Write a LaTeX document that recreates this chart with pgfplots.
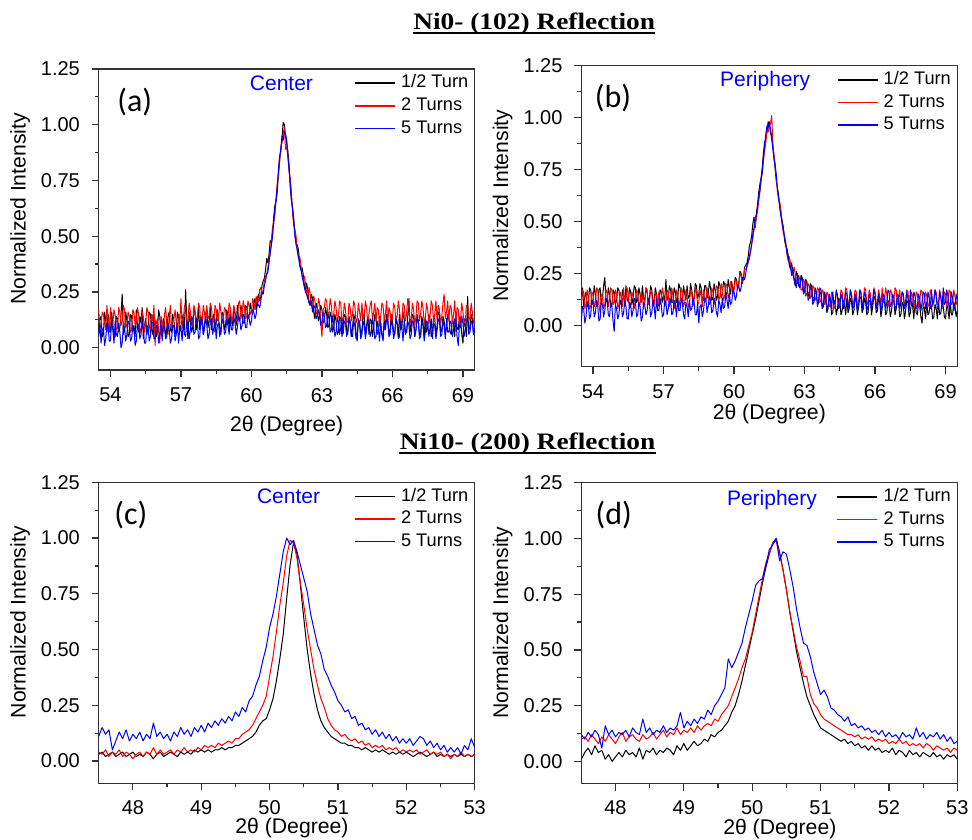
\documentclass[border=0pt]{standalone}
\usepackage{fontspec}
\setmainfont{Liberation Sans}
\newfontfamily\titlefont{Liberation Serif}
\newfontfamily\panelfont{Carlito}
\usepackage{graphicx}
\usepackage{pgfplots}
\usepackage{pgfplotstable}
\pgfplotsset{compat=1.18}

% Ni0 (102), center
\pgfplotstableread{
x k r b
53.50 0.08 0.17 0.05
53.55 0.13 0.09 0.11
53.60 0.14 0.10 0.02
53.65 0.05 0.16 0.08
53.70 0.06 0.15 0.09
53.75 0.16 0.11 0.01
53.80 0.12 0.08 0.04
53.85 0.07 0.19 0.11
53.90 0.15 0.13 0.10
53.95 0.10 0.07 0.03
54.00 0.07 0.18 0.03
54.05 0.16 0.10 0.12
54.10 0.11 0.11 0.08
54.15 0.04 0.17 0.02
54.20 0.05 0.15 0.12
54.25 0.14 0.08 0.06
54.30 0.13 0.09 0.05
54.35 0.07 0.18 0.11
54.40 0.09 0.16 0.07
54.45 0.15 0.10 0.00
54.50 0.24 0.12 0.02
54.55 0.06 0.19 0.10
54.60 0.08 0.17 0.09
54.65 0.16 0.09 0.03
54.70 0.12 0.10 0.06
54.75 0.05 0.16 0.12
54.80 0.06 0.14 0.11
54.85 0.15 0.07 0.03
54.90 0.14 0.08 0.04
54.95 0.07 0.17 0.10
55.00 0.10 0.16 0.08
55.05 0.05 0.10 0.01
55.10 0.17 0.12 0.03
55.15 0.09 0.18 0.11
55.20 0.07 0.15 0.10
55.25 0.14 0.06 0.04
55.30 0.11 0.09 0.06
55.35 0.18 0.16 0.12
55.40 0.04 0.14 0.08
55.45 0.10 0.07 0.02
55.50 0.13 0.11 0.02
55.55 0.06 0.18 0.10
55.60 0.09 0.16 0.09
55.65 0.16 0.10 0.03
55.70 0.15 0.07 0.05
55.75 0.08 0.15 0.12
55.80 0.06 0.12 0.11
55.85 0.15 0.19 0.04
55.90 0.12 0.01 0.04
55.95 0.05 0.11 0.10
56.00 0.08 0.13 0.09
56.05 0.17 0.08 0.02
56.10 0.14 0.02 0.06
56.15 0.06 0.14 0.12
56.20 0.05 0.12 0.03
56.25 0.13 0.07 0.09
56.30 0.11 0.15 0.10
56.35 0.04 0.18 0.04
56.40 0.09 0.10 0.05
56.45 0.14 0.06 0.11
56.50 0.16 0.14 0.08
56.55 0.08 0.19 0.02
56.60 0.07 0.09 0.04
56.65 0.15 0.12 0.10
56.70 0.12 0.13 0.10
56.75 0.06 0.17 0.03
56.80 0.08 0.11 0.06
56.85 0.16 0.07 0.11
56.90 0.13 0.15 0.02
56.95 0.07 0.11 0.09
57.00 0.10 0.22 0.09
57.05 0.13 0.09 0.03
57.10 0.15 0.12 0.12
57.15 0.08 0.19 0.06
57.20 0.26 0.18 0.05
57.25 0.11 0.10 0.12
57.30 0.04 0.13 0.10
57.35 0.16 0.20 0.04
57.40 0.12 0.16 0.08
57.45 0.07 0.10 0.14
57.50 0.09 0.11 0.13
57.55 0.17 0.19 0.06
57.60 0.16 0.17 0.07
57.65 0.08 0.11 0.13
57.70 0.11 0.14 0.11
57.75 0.18 0.20 0.04
57.80 0.08 0.18 0.05
57.85 0.13 0.10 0.13
57.90 0.14 0.12 0.12
57.95 0.06 0.19 0.06
58.00 0.10 0.16 0.08
58.05 0.15 0.11 0.14
58.10 0.17 0.19 0.10
58.15 0.09 0.13 0.04
58.20 0.12 0.14 0.06
58.25 0.18 0.20 0.12
58.30 0.08 0.18 0.13
58.35 0.13 0.11 0.06
58.40 0.15 0.12 0.09
58.45 0.07 0.19 0.13
58.50 0.11 0.17 0.04
58.55 0.17 0.12 0.10
58.60 0.13 0.13 0.11
58.65 0.09 0.20 0.05
58.70 0.06 0.16 0.08
58.75 0.16 0.11 0.13
58.80 0.15 0.12 0.12
58.85 0.08 0.18 0.06
58.90 0.10 0.17 0.07
58.95 0.17 0.11 0.13
59.00 0.14 0.14 0.10
59.05 0.09 0.20 0.06
59.10 0.17 0.18 0.13
59.15 0.12 0.11 0.08
59.20 0.10 0.13 0.08
59.25 0.18 0.19 0.14
59.30 0.15 0.16 0.11
59.35 0.10 0.12 0.06
59.40 0.19 0.12 0.09
59.45 0.13 0.20 0.14
59.50 0.12 0.21 0.13
59.55 0.19 0.13 0.08
59.60 0.16 0.15 0.10
59.65 0.11 0.21 0.15
59.70 0.11 0.18 0.14
59.75 0.19 0.13 0.09
59.80 0.18 0.14 0.09
59.85 0.13 0.21 0.15
59.90 0.14 0.19 0.13
59.95 0.20 0.15 0.10
60.00 0.17 0.16 0.12
60.05 0.15 0.22 0.17
60.10 0.20 0.20 0.16
60.15 0.22 0.17 0.13
60.20 0.17 0.23 0.15
60.25 0.22 0.19 0.20
60.30 0.24 0.21 0.19
60.35 0.21 0.26 0.18
60.40 0.23 0.27 0.21
60.45 0.28 0.24 0.25
60.50 0.30 0.26 0.24
60.55 0.31 0.30 0.28
60.60 0.35 0.32 0.30
60.65 0.40 0.33 0.33
60.70 0.38 0.36 0.34
60.75 0.42 0.40 0.38
60.80 0.48 0.42 0.43
60.85 0.47 0.49 0.46
60.90 0.52 0.54 0.50
60.95 0.59 0.56 0.57
61.00 0.64 0.60 0.62
61.05 0.66 0.68 0.66
61.10 0.70 0.74 0.72
61.15 0.80 0.77 0.79
61.20 0.86 0.83 0.85
61.25 0.88 0.90 0.89
61.30 0.94 0.92 0.95
61.35 1.01 0.96 0.93
61.40 1.00 0.99 0.97
61.45 0.95 0.89 0.96
61.50 0.92 0.90 0.93
61.55 0.88 0.86 0.86
61.60 0.82 0.79 0.80
61.65 0.72 0.76 0.74
61.70 0.66 0.70 0.67
61.75 0.63 0.60 0.62
61.80 0.58 0.55 0.56
61.85 0.51 0.53 0.50
61.90 0.47 0.50 0.46
61.95 0.46 0.43 0.44
62.00 0.44 0.40 0.41
62.05 0.38 0.41 0.37
62.10 0.35 0.38 0.35
62.15 0.36 0.32 0.33
62.20 0.33 0.30 0.30
62.25 0.28 0.32 0.27
62.30 0.26 0.29 0.25
62.35 0.29 0.24 0.24
62.40 0.25 0.22 0.22
62.45 0.21 0.27 0.20
62.50 0.19 0.24 0.19
62.55 0.24 0.19 0.21
62.60 0.22 0.17 0.16
62.65 0.16 0.23 0.19
62.70 0.13 0.21 0.18
62.75 0.20 0.15 0.13
62.80 0.18 0.16 0.14
62.85 0.12 0.22 0.17
62.90 0.14 0.20 0.15
62.95 0.19 0.11 0.10
63.00 0.17 0.05 0.12
63.05 0.11 0.17 0.16
63.10 0.12 0.18 0.14
63.15 0.18 0.22 0.09
63.20 0.15 0.21 0.10
63.25 0.09 0.14 0.15
63.30 0.10 0.16 0.13
63.35 0.16 0.22 0.07
63.40 0.14 0.19 0.08
63.45 0.07 0.12 0.14
63.50 0.09 0.15 0.11
63.55 0.15 0.21 0.05
63.60 0.12 0.18 0.07
63.65 0.06 0.12 0.13
63.70 0.07 0.14 0.12
63.75 0.14 0.21 0.06
63.80 0.13 0.20 0.09
63.85 0.05 0.12 0.13
63.90 0.10 0.13 0.06
63.95 0.15 0.20 0.12
64.00 0.14 0.17 0.11
64.05 0.08 0.11 0.05
64.10 0.06 0.12 0.08
64.15 0.14 0.20 0.13
64.20 0.11 0.18 0.12
64.25 0.05 0.12 0.05
64.30 0.09 0.15 0.05
64.35 0.15 0.21 0.12
64.40 0.13 0.19 0.10
64.45 0.06 0.11 0.04
64.50 0.03 0.13 0.07
64.55 0.12 0.20 0.13
64.60 0.12 0.16 0.11
64.65 0.05 0.12 0.04
64.70 0.08 0.20 0.06
64.75 0.15 0.13 0.12
64.80 0.14 0.14 0.10
64.85 0.06 0.21 0.04
64.90 0.10 0.18 0.08
64.95 0.14 0.11 0.13
65.00 0.06 0.15 0.12
65.05 0.13 0.19 0.05
65.10 0.12 0.21 0.07
65.15 0.05 0.12 0.13
65.20 0.09 0.16 0.10
65.25 0.15 0.20 0.04
65.30 0.13 0.12 0.05
65.35 0.06 0.18 0.12
65.40 0.07 0.17 0.09
65.45 0.14 0.10 0.03
65.50 0.11 0.14 0.11
65.55 0.06 0.20 0.06
65.60 0.04 0.19 0.03
65.65 0.13 0.12 0.11
65.70 0.10 0.15 0.08
65.75 0.15 0.21 0.13
65.80 0.13 0.11 0.12
65.85 0.06 0.18 0.05
65.90 0.08 0.16 0.06
65.95 0.15 0.11 0.12
66.00 0.12 0.13 0.10
66.05 0.07 0.20 0.04
66.10 0.06 0.18 0.07
66.15 0.14 0.12 0.13
66.20 0.11 0.14 0.11
66.25 0.05 0.21 0.04
66.30 0.15 0.17 0.05
66.35 0.08 0.11 0.12
66.40 0.09 0.12 0.09
66.45 0.16 0.20 0.03
66.50 0.13 0.19 0.12
66.55 0.06 0.12 0.07
66.60 0.07 0.15 0.07
66.65 0.14 0.22 0.12
66.70 0.22 0.18 0.10
66.75 0.07 0.11 0.04
66.80 0.10 0.13 0.06
66.85 0.15 0.20 0.12
66.90 0.14 0.17 0.11
66.95 0.05 0.10 0.05
67.00 0.08 0.14 0.08
67.05 0.15 0.21 0.13
67.10 0.12 0.20 0.12
67.15 0.06 0.12 0.04
67.20 0.06 0.15 0.05
67.25 0.14 0.21 0.12
67.30 0.11 0.18 0.10
67.35 0.05 0.11 0.03
67.40 0.14 0.13 0.07
67.45 0.07 0.20 0.12
67.50 0.09 0.17 0.11
67.55 0.15 0.11 0.05
67.60 0.12 0.14 0.09
67.65 0.05 0.21 0.13
67.70 0.07 0.19 0.04
67.75 0.14 0.12 0.11
67.80 0.13 0.15 0.10
67.85 0.06 0.21 0.04
67.90 0.10 0.12 0.08
67.95 0.16 0.19 0.13
68.00 0.15 0.17 0.12
68.05 0.07 0.11 0.05
68.10 0.08 0.14 0.06
68.15 0.14 0.20 0.12
68.20 0.12 0.24 0.10
68.25 0.06 0.13 0.04
68.30 0.09 0.16 0.13
68.35 0.15 0.21 0.07
68.40 0.14 0.12 0.07
68.45 0.07 0.19 0.12
68.50 0.06 0.18 0.11
68.55 0.13 0.11 0.05
68.60 0.11 0.15 0.08
68.65 0.05 0.21 0.13
68.70 0.15 0.11 0.12
68.75 0.09 0.18 0.05
68.80 0.08 0.17 0.01
68.85 0.14 0.10 0.10
68.90 0.12 0.13 0.09
68.95 0.06 0.20 0.14
69.00 0.02 0.16 0.11
69.05 0.13 0.11 0.05
69.10 0.10 0.12 0.08
69.15 0.05 0.19 0.13
69.20 0.23 0.18 0.12
69.25 0.08 0.12 0.06
69.30 0.09 0.14 0.07
69.35 0.15 0.20 0.12
69.40 0.13 0.16 0.11
69.45 0.06 0.11 0.06
69.50 0.08 0.12 0.09
}\tabA

% Ni0 (102), periphery
\pgfplotstableread{
x k r b
53.50 0.13 0.11 0.02
53.55 0.18 0.17 0.09
53.60 0.09 0.16 0.08
53.65 0.14 0.08 0.01
53.70 0.16 0.10 0.04
53.75 0.09 0.17 0.11
53.80 0.11 0.14 0.10
53.85 0.18 0.08 0.03
53.90 0.17 0.09 0.05
53.95 0.10 0.16 0.12
54.00 0.12 0.15 0.11
54.05 0.19 0.09 0.04
54.10 0.15 0.11 0.06
54.15 0.09 0.18 0.12
54.20 0.10 0.17 0.09
54.25 0.17 0.10 0.02
54.30 0.18 0.06 0.03
54.35 0.10 0.15 0.11
54.40 0.13 0.14 0.10
54.45 0.19 0.08 0.04
54.50 0.23 0.10 0.07
54.55 0.12 0.17 0.13
54.60 0.11 0.16 0.12
54.65 0.18 0.09 0.05
54.70 0.15 0.12 0.04
54.75 0.10 0.18 0.11
54.80 0.09 0.17 0.09
54.85 0.17 0.10 0.02
54.90 0.16 0.11 -0.03
54.95 0.10 0.17 0.10
55.00 0.12 0.15 0.08
55.05 0.18 0.08 0.03
55.10 0.17 0.10 0.05
55.15 0.11 0.16 0.12
55.20 0.10 0.14 0.11
55.25 0.17 0.09 0.04
55.30 0.14 0.18 0.06
55.35 0.09 0.11 0.12
55.40 0.19 0.12 0.09
55.45 0.13 0.18 0.03
55.50 0.11 0.15 0.03
55.55 0.18 0.08 0.11
55.60 0.16 0.09 0.10
55.65 0.10 0.16 0.04
55.70 0.13 0.14 0.07
55.75 0.19 0.08 0.13
55.80 0.18 0.11 0.12
55.85 0.11 0.17 0.04
55.90 0.12 0.16 0.05
55.95 0.18 0.09 0.11
56.00 0.15 0.10 0.09
56.05 0.11 0.16 0.02
56.10 0.19 0.14 0.04
56.15 0.13 0.08 0.11
56.20 0.11 0.12 0.10
56.25 0.18 0.18 0.05
56.30 0.16 0.17 0.07
56.35 0.10 0.10 0.13
56.40 0.13 0.11 0.11
56.45 0.19 0.17 0.04
56.50 0.17 0.15 0.06
56.55 0.11 0.09 0.12
56.60 0.12 0.10 0.09
56.65 0.18 0.16 0.03
56.70 0.15 0.14 0.13
56.75 0.09 0.09 0.07
56.80 0.10 0.16 0.07
56.85 0.17 0.10 0.13
56.90 0.16 0.12 0.10
56.95 0.11 0.18 0.04
57.00 0.14 0.15 0.05
57.05 0.12 0.09 0.12
57.10 0.22 0.11 0.11
57.15 0.12 0.17 0.05
57.20 0.13 0.16 0.08
57.25 0.19 0.09 0.13
57.30 0.17 0.12 0.12
57.35 0.11 0.18 0.05
57.40 0.11 0.14 0.06
57.45 0.18 0.08 0.12
57.50 0.16 0.10 0.10
57.55 0.11 0.17 0.04
57.60 0.13 0.15 0.13
57.65 0.20 0.09 0.07
57.70 0.18 0.12 0.07
57.75 0.12 0.18 0.13
57.80 0.12 0.16 0.11
57.85 0.19 0.09 0.05
57.90 0.15 0.11 0.03
57.95 0.12 0.17 0.11
58.00 0.19 0.14 0.09
58.05 0.13 0.09 0.04
58.10 0.14 0.10 0.12
58.15 0.20 0.17 0.07
58.20 0.17 0.15 0.08
58.25 0.12 0.09 0.13
58.30 0.13 0.12 0.11
58.35 0.20 0.18 0.05
58.40 0.19 0.16 0.05
58.45 0.13 0.10 0.11
58.50 0.15 0.11 0.01
58.55 0.20 0.17 0.09
58.60 0.18 0.14 0.10
58.65 0.12 0.09 0.04
58.70 0.12 0.17 0.07
58.75 0.19 0.11 0.13
58.80 0.19 0.12 0.13
58.85 0.13 0.18 0.06
58.90 0.15 0.15 0.09
58.95 0.21 0.10 0.14
59.00 0.18 0.11 0.12
59.05 0.12 0.18 0.06
59.10 0.13 0.16 0.07
59.15 0.20 0.10 0.13
59.20 0.17 0.13 0.11
59.25 0.12 0.19 0.06
59.30 0.14 0.18 0.04
59.35 0.21 0.12 0.12
59.40 0.19 0.14 0.10
59.45 0.13 0.20 0.06
59.50 0.15 0.17 0.13
59.55 0.21 0.12 0.08
59.60 0.20 0.14 0.09
59.65 0.14 0.20 0.15
59.70 0.16 0.19 0.12
59.75 0.22 0.13 0.08
59.80 0.18 0.15 0.15
59.85 0.15 0.21 0.10
59.90 0.21 0.20 0.11
59.95 0.17 0.15 0.17
60.00 0.18 0.17 0.16
60.05 0.23 0.22 0.12
60.10 0.22 0.21 0.14
60.15 0.18 0.17 0.19
60.20 0.20 0.19 0.19
60.25 0.26 0.25 0.16
60.30 0.25 0.24 0.18
60.35 0.21 0.20 0.23
60.40 0.23 0.22 0.23
60.45 0.28 0.27 0.22
60.50 0.29 0.27 0.25
60.55 0.30 0.28 0.29
60.60 0.33 0.30 0.31
60.65 0.38 0.32 0.33
60.70 0.40 0.35 0.36
60.75 0.43 0.39 0.39
60.80 0.49 0.42 0.44
60.85 0.52 0.46 0.47
60.90 0.47 0.48 0.52
60.95 0.54 0.52 0.53
61.00 0.58 0.55 0.57
61.05 0.64 0.60 0.62
61.10 0.68 0.64 0.65
61.15 0.71 0.70 0.70
61.20 0.76 0.73 0.74
61.25 0.83 0.79 0.81
61.30 0.88 0.84 0.86
61.35 0.90 0.88 0.92
61.40 0.93 0.94 0.96
61.45 0.98 0.93 0.95
61.50 0.97 0.96 0.98
61.55 0.93 0.97 0.94
61.60 0.90 1.01 0.91
61.65 0.86 0.88 0.85
61.70 0.81 0.82 0.80
61.75 0.75 0.77 0.77
61.80 0.69 0.71 0.72
61.85 0.66 0.64 0.65
61.90 0.62 0.60 0.61
61.95 0.57 0.59 0.56
62.00 0.53 0.55 0.52
62.05 0.50 0.48 0.49
62.10 0.47 0.44 0.46
62.15 0.41 0.43 0.42
62.20 0.38 0.40 0.39
62.25 0.37 0.34 0.35
62.30 0.34 0.31 0.33
62.35 0.29 0.33 0.30
62.40 0.27 0.30 0.28
62.45 0.30 0.26 0.24
62.50 0.26 0.24 0.27
62.55 0.22 0.28 0.23
62.60 0.19 0.25 0.21
62.65 0.26 0.20 0.18
62.70 0.24 0.20 0.25
62.75 0.19 0.24 0.20
62.80 0.18 0.22 0.18
62.85 0.24 0.17 0.23
62.90 0.23 0.17 0.22
62.95 0.16 0.22 0.15
63.00 0.17 0.21 0.16
63.05 0.22 0.14 0.21
63.10 0.21 0.15 0.20
63.15 0.14 0.20 0.12
63.20 0.15 0.19 0.13
63.25 0.20 0.13 0.19
63.30 0.19 0.14 0.18
63.35 0.12 0.19 0.10
63.40 0.12 0.18 0.11
63.45 0.18 0.12 0.17
63.50 0.16 0.13 0.16
63.55 0.10 0.18 0.09
63.60 0.11 0.17 0.12
63.65 0.16 0.11 0.18
63.70 0.15 0.12 0.17
63.75 0.08 0.17 0.09
63.80 0.09 0.16 0.10
63.85 0.14 0.10 0.16
63.90 0.13 0.11 0.14
63.95 0.06 0.16 0.08
64.00 0.08 0.15 0.09
64.05 0.13 0.09 0.15
64.10 0.12 0.10 0.13
64.15 0.05 0.16 0.08
64.20 0.06 0.14 0.16
64.25 0.12 0.08 0.10
64.30 0.11 0.09 0.11
64.35 0.05 0.16 0.17
64.40 0.08 0.15 0.14
64.45 0.13 0.09 0.08
64.50 0.12 0.11 0.09
64.55 0.05 0.17 0.15
64.60 0.07 0.16 0.13
64.65 0.12 0.10 0.08
64.70 0.10 0.12 0.10
64.75 0.05 0.18 0.16
64.80 0.13 0.17 0.15
64.85 0.06 0.10 0.08
64.90 0.08 0.11 0.11
64.95 0.13 0.17 0.17
65.00 0.11 0.15 0.14
65.05 0.05 0.09 0.08
65.10 0.07 0.12 0.09
65.15 0.13 0.17 0.15
65.20 0.12 0.16 0.13
65.25 0.05 0.09 0.07
65.30 0.09 0.10 0.10
65.35 0.14 0.17 0.17
65.40 0.13 0.15 0.16
65.45 0.06 0.09 0.08
65.50 0.08 0.12 0.11
65.55 0.13 0.18 0.16
65.60 0.11 0.17 0.14
65.65 0.05 0.10 0.07
65.70 0.06 0.11 0.09
65.75 0.12 0.17 0.15
65.80 0.12 0.15 0.13
65.85 0.05 0.09 0.08
65.90 0.09 0.12 0.11
65.95 0.14 0.18 0.17
66.00 0.13 0.16 0.15
66.05 0.06 0.10 0.08
66.10 0.07 0.11 0.10
66.15 0.13 0.17 0.15
66.20 0.11 0.14 0.13
66.25 0.04 0.09 0.07
66.30 0.08 0.18 0.09
66.35 0.13 0.11 0.15
66.40 0.12 0.12 0.14
66.45 0.05 0.18 0.08
66.50 0.06 0.15 0.11
66.55 0.12 0.09 0.17
66.60 0.10 0.11 0.16
66.65 0.04 0.17 0.09
66.70 0.07 0.16 0.10
66.75 0.12 0.10 0.15
66.80 0.12 0.12 0.13
66.85 0.05 0.18 0.08
66.90 0.08 0.17 0.09
66.95 0.13 0.10 0.15
67.00 0.11 0.13 0.14
67.05 0.04 0.17 0.08
67.10 0.05 0.09 0.11
67.15 0.11 0.16 0.16
67.20 0.10 0.15 0.15
67.25 0.03 0.09 0.08
67.30 0.07 0.12 0.10
67.35 0.12 0.17 0.16
67.40 0.11 0.16 0.13
67.45 0.04 0.09 0.07
67.50 0.06 0.11 0.17
67.55 0.11 0.16 0.10
67.60 0.09 0.14 0.10
67.65 0.03 0.08 0.16
67.70 0.12 0.10 0.14
67.75 0.06 0.16 0.08
67.80 0.05 0.15 0.09
67.85 0.11 0.09 0.15
67.90 0.09 0.12 0.13
67.95 0.04 0.17 0.07
68.00 0.01 0.16 0.11
68.05 0.10 0.09 0.16
68.10 0.08 0.11 0.15
68.15 0.03 0.16 0.08
68.20 0.11 0.14 0.10
68.25 0.05 0.09 0.16
68.30 0.06 0.10 0.13
68.35 0.11 0.17 0.08
68.40 0.09 0.15 0.17
68.45 0.03 0.09 0.10
68.50 0.04 0.12 0.11
68.55 0.10 0.17 0.17
68.60 0.08 0.16 0.14
68.65 0.03 0.10 0.08
68.70 0.11 0.11 0.09
68.75 0.05 0.17 0.16
68.80 0.06 0.14 0.13
68.85 0.11 0.09 0.08
68.90 0.09 0.10 0.18
68.95 0.04 0.16 0.10
69.00 0.03 0.15 0.11
69.05 0.10 0.09 0.17
69.10 0.08 0.12 0.14
69.15 0.03 0.17 0.08
69.20 0.11 0.16 0.10
69.25 0.05 0.10 0.16
69.30 0.05 0.11 0.13
69.35 0.11 0.17 0.07
69.40 0.09 0.14 0.09
69.45 0.04 0.10 0.15
69.50 0.07 0.12 0.12
}\tabB

% Ni10 (200), center
\pgfplotstableread{
x k r b
47.50 0.03 0.04 0.11
47.55 0.04 0.03 0.15
47.60 0.02 0.05 0.12
47.65 0.03 0.02 0.14
47.70 0.04 0.04 0.05
47.75 0.02 0.03 0.09
47.80 0.03 0.05 0.13
47.85 0.04 0.02 0.10
47.90 0.02 0.04 0.14
47.95 0.03 0.03 0.09
48.00 0.04 0.01 0.12
48.05 0.02 0.03 0.10
48.10 0.03 0.04 0.13
48.15 0.02 0.02 0.09
48.20 0.04 0.04 0.12
48.25 0.03 0.03 0.10
48.30 0.01 0.06 0.17
48.35 0.03 0.03 0.11
48.40 0.04 0.05 0.13
48.45 0.02 0.03 0.10
48.50 0.03 0.04 0.12
48.55 0.04 0.05 0.09
48.60 0.03 0.03 0.13
48.65 0.02 0.05 0.11
48.70 0.04 0.04 0.15
48.75 0.03 0.06 0.12
48.80 0.04 0.04 0.14
48.85 0.03 0.05 0.11
48.90 0.05 0.04 0.15
48.95 0.04 0.06 0.13
49.00 0.05 0.05 0.16
49.05 0.04 0.07 0.13
49.10 0.05 0.06 0.17
49.15 0.04 0.07 0.15
49.20 0.05 0.06 0.18
49.25 0.05 0.08 0.16
49.30 0.06 0.07 0.19
49.35 0.05 0.08 0.17
49.40 0.06 0.09 0.20
49.45 0.06 0.08 0.18
49.50 0.07 0.10 0.22
49.55 0.07 0.10 0.20
49.60 0.08 0.12 0.24
49.65 0.09 0.13 0.22
49.70 0.10 0.14 0.27
49.75 0.11 0.16 0.29
49.80 0.13 0.19 0.34
49.85 0.16 0.22 0.38
49.90 0.18 0.25 0.45
49.95 0.19 0.29 0.51
50.00 0.23 0.38 0.60
50.05 0.28 0.47 0.66
50.10 0.36 0.58 0.74
50.15 0.46 0.70 0.84
50.20 0.57 0.80 0.94
50.25 0.73 0.92 1.00
50.30 0.88 0.99 0.97
50.35 0.98 0.98 0.99
50.40 0.93 0.91 0.94
50.45 0.79 0.80 0.88
50.50 0.64 0.70 0.82
50.55 0.50 0.59 0.76
50.60 0.39 0.50 0.66
50.65 0.30 0.41 0.59
50.70 0.23 0.34 0.52
50.75 0.18 0.28 0.48
50.80 0.15 0.24 0.41
50.85 0.13 0.19 0.38
50.90 0.11 0.16 0.34
50.95 0.10 0.14 0.31
51.00 0.09 0.13 0.27
51.05 0.08 0.11 0.25
51.10 0.08 0.12 0.22
51.15 0.07 0.10 0.23
51.20 0.07 0.09 0.19
51.25 0.06 0.10 0.20
51.30 0.06 0.08 0.16
51.35 0.05 0.09 0.17
51.40 0.06 0.07 0.14
51.45 0.05 0.08 0.15
51.50 0.04 0.06 0.12
51.55 0.05 0.07 0.14
51.60 0.04 0.06 0.11
51.65 0.05 0.07 0.13
51.70 0.04 0.05 0.10
51.75 0.03 0.06 0.12
51.80 0.04 0.05 0.09
51.85 0.03 0.06 0.11
51.90 0.04 0.04 0.08
51.95 0.03 0.05 0.10
52.00 0.04 0.04 0.08
52.05 0.03 0.05 0.10
52.10 0.02 0.04 0.07
52.15 0.03 0.05 0.09
52.20 0.04 0.03 0.11
52.25 0.03 0.04 0.10
52.30 0.02 0.05 0.07
52.35 0.03 0.03 0.09
52.40 0.04 0.04 0.06
52.45 0.02 0.03 0.08
52.50 0.03 0.04 0.05
52.55 0.02 0.02 0.07
52.60 0.03 0.03 0.04
52.65 0.02 0.01 0.06
52.70 0.03 0.03 0.04
52.75 0.02 0.02 0.06
52.80 0.03 0.04 0.03
52.85 0.02 0.02 0.07
52.90 0.03 0.03 0.05
52.95 0.02 0.02 0.10
53.00 0.03 0.03 0.06
}\tabC

% Ni10 (200), periphery
\pgfplotstableread{
x k r b
47.50 0.01 0.10 0.12
47.55 0.04 0.11 0.10
47.60 0.06 0.09 0.13
47.65 0.03 0.12 0.11
47.70 0.07 0.10 0.14
47.75 0.04 0.08 0.12
47.80 0.05 0.11 0.06
47.85 0.01 0.09 0.16
47.90 0.03 0.12 0.12
47.95 0.00 0.10 0.14
48.00 0.02 0.08 0.11
48.05 0.04 0.11 0.13
48.10 0.02 0.13 0.12
48.15 0.05 0.09 0.14
48.20 0.03 0.11 0.11
48.25 0.04 0.12 0.15
48.30 0.02 0.10 0.13
48.35 0.06 0.09 0.12
48.40 0.01 0.12 0.19
48.45 0.05 0.10 0.13
48.50 0.04 0.11 0.15
48.55 0.06 0.13 0.12
48.60 0.03 0.10 0.14
48.65 0.05 0.12 0.13
48.70 0.04 0.14 0.16
48.75 0.06 0.11 0.13
48.80 0.05 0.13 0.15
48.85 0.03 0.12 0.14
48.90 0.07 0.15 0.16
48.95 0.05 0.12 0.22
49.00 0.08 0.14 0.15
49.05 0.05 0.13 0.18
49.10 0.07 0.15 0.16
49.15 0.09 0.13 0.19
49.20 0.07 0.16 0.17
49.25 0.08 0.14 0.20
49.30 0.10 0.16 0.19
49.35 0.09 0.17 0.23
49.40 0.12 0.16 0.21
49.45 0.11 0.19 0.25
49.50 0.13 0.18 0.27
49.55 0.14 0.21 0.30
49.60 0.16 0.23 0.33
49.65 0.18 0.25 0.46
49.70 0.22 0.29 0.42
49.75 0.25 0.33 0.45
49.80 0.30 0.37 0.49
49.85 0.36 0.42 0.53
49.90 0.43 0.46 0.60
49.95 0.50 0.52 0.66
50.00 0.57 0.58 0.72
50.05 0.64 0.66 0.79
50.10 0.72 0.74 0.81
50.15 0.80 0.82 0.82
50.20 0.87 0.89 0.88
50.25 0.93 0.93 0.95
50.30 0.98 0.98 0.97
50.35 1.00 0.99 1.00
50.40 0.94 0.93 0.90
50.45 0.86 0.86 0.94
50.50 0.77 0.77 0.93
50.55 0.67 0.67 0.86
50.60 0.58 0.59 0.78
50.65 0.49 0.51 0.68
50.70 0.42 0.45 0.60
50.75 0.35 0.38 0.53
50.80 0.29 0.38 0.52
50.85 0.25 0.30 0.47
50.90 0.21 0.26 0.40
50.95 0.18 0.24 0.35
51.00 0.15 0.21 0.30
51.05 0.14 0.19 0.32
51.10 0.13 0.18 0.29
51.15 0.12 0.17 0.24
51.20 0.11 0.16 0.23
51.25 0.10 0.15 0.21
51.30 0.09 0.14 0.20
51.35 0.10 0.13 0.18
51.40 0.08 0.12 0.20
51.45 0.09 0.12 0.16
51.50 0.07 0.11 0.17
51.55 0.08 0.12 0.15
51.60 0.06 0.10 0.16
51.65 0.07 0.11 0.14
51.70 0.05 0.10 0.15
51.75 0.07 0.11 0.13
51.80 0.05 0.09 0.14
51.85 0.06 0.10 0.12
51.90 0.04 0.09 0.14
51.95 0.05 0.10 0.11
52.00 0.04 0.08 0.13
52.05 0.06 0.09 0.11
52.10 0.03 0.08 0.12
52.15 0.05 0.10 0.10
52.20 0.04 0.08 0.13
52.25 0.02 0.09 0.11
52.30 0.05 0.07 0.12
52.35 0.03 0.08 0.10
52.40 0.04 0.07 0.15
52.45 0.02 0.08 0.11
52.50 0.04 0.06 0.13
52.55 0.03 0.08 0.10
52.60 0.02 0.07 0.12
52.65 0.04 0.05 0.11
52.70 0.02 0.07 0.13
52.75 0.03 0.06 0.10
52.80 0.01 0.05 0.12
52.85 0.03 0.06 0.09
52.90 0.02 0.04 0.11
52.95 0.03 0.06 0.08
53.00 0.01 0.05 0.09
}\tabD

\pgfplotsset{
  xrd/.style={
    scale only axis,
    width=188pt, height=150.5pt,
    anchor=north west,
    axis line style={line width=0.7pt, black!80},
    tick align=outside,
    xtick pos=bottom, ytick pos=left,
    major tick length=3.5pt, minor tick length=2pt,
    every tick/.style={black!80, line width=0.6pt},
    minor x tick num=1, minor y tick num=1,
    ymax=1.25, ytick={0,0.25,0.5,0.75,1,1.25},
    /pgf/number format/assume math mode=true,
    yticklabel style={/pgf/number format/fixed, /pgf/number format/fixed zerofill, /pgf/number format/precision=2, xshift=-2.4pt},
    xticklabel style={inner sep=0.5pt, yshift=-4.9pt},
    tick label style={font=\fontsize{10}{12}\selectfont},
    label style={font=\fontsize{10.6}{12}\selectfont},
    ylabel={Normalized Intensity},
    xlabel={2θ (Degree)},
    ylabel style={at={(axis description cs:-0.209,0.535)}, anchor=center},
    legend style={at={(0.988,0.988)}, anchor=north east, draw=none, fill=none,
      inner sep=0pt, row sep=1.2pt, column sep=1.9pt, font=\fontsize{9.1}{10}\selectfont,
      nodes={inner sep=0.8pt, text height=6.6pt, text depth=1.9pt}},
    legend cell align=left,
    legend image code/.code={\draw[#1, line width=0.8pt] (0pt,0pt) -- (20pt,0pt);},
    every axis plot/.append style={line width=0.5pt, line join=round},
  },
}
\tikzset{
  tag/.style={font=\panelfont\fontsize{16}{18}\selectfont},
  site/.style={text=blue, font=\fontsize{10.5}{12}\selectfont},
}

\begin{document}
\begin{tikzpicture}
\useasboundingbox (0,0) rectangle (486pt,-419.5pt);

\node[anchor=base, inner sep=0pt] (t1) at (267.1pt,-14.65pt)
  {\titlefont\bfseries\fontsize{11.8}{14}\selectfont\scalebox{1.16}[1]{Ni0- (102) Reflection}};
\draw[line width=1pt] ([yshift=-2pt]t1.base west) -- ([yshift=-2pt]t1.base east);

\node[anchor=base, inner sep=0pt] (t2) at (263.8pt,-224.65pt)
  {\titlefont\bfseries\fontsize{11.8}{14}\selectfont\scalebox{1.16}[1]{Ni10- (200) Reflection}};
\draw[line width=1pt] ([yshift=-2pt]t2.base west) -- ([yshift=-2pt]t2.base east);

% (a)
\begin{axis}[xrd, at={(49.35pt,-34.5pt)},
    xmin=53.5, xmax=69.5, ymin=-0.1, xtick={54,57,60,63,66,69},
    xlabel style={at={(axis description cs:0.5,-0.187)}, anchor=center, inner sep=0pt}]
  \addplot[black] table[x=x, y=k] {\tabA};
  \addplot[red] table[x=x, y=r] {\tabA};
  \addplot[blue] table[x=x, y=b] {\tabA};
  \legend{1/2 Turn, 2 Turns, 5 Turns}
  \node[site] at (axis description cs:0.486,0.952) {Center};
  \node[tag] at (axis description cs:0.0957,0.891) {(a)};
\end{axis}

% (b)
\begin{axis}[xrd, at={(290.65pt,-32.85pt)},
    xmin=53.5, xmax=69.5, ymin=-0.2, xtick={54,57,60,63,66,69},
    xlabel style={at={(axis description cs:0.5,-0.158)}, anchor=center, inner sep=0pt}]
  \addplot[black] table[x=x, y=k] {\tabB};
  \addplot[red] table[x=x, y=r] {\tabB};
  \addplot[blue] table[x=x, y=b] {\tabB};
  \legend{1/2 Turn, 2 Turns, 5 Turns}
  \node[site] at (axis description cs:0.489,0.949) {Periphery};
  \node[tag] at (axis description cs:0.0843,0.892) {(b)};
\end{axis}

% (c)
\begin{axis}[xrd, at={(49.35pt,-241.15pt)},
    xmin=47.5, xmax=53, ymin=-0.1, xtick={48,49,50,51,52,53},
    xticklabel style={yshift=0.6pt},
    xlabel style={at={(axis description cs:0.514,-0.148)}, anchor=center, inner sep=0pt}]
  \addplot[black] table[x=x, y=k] {\tabC};
  \addplot[red] table[x=x, y=r] {\tabC};
  \addplot[blue] table[x=x, y=b] {\tabC};
  \legend{1/2 Turn, 2 Turns, 5 Turns}
  \node[site] at (axis description cs:0.505,0.952) {Center};
  \node[tag] at (axis description cs:0.0855,0.892) {(c)};
\end{axis}

% (d)
\begin{axis}[xrd, at={(290.65pt,-241.35pt)},
    xmin=47.5, xmax=53, ymin=-0.1, xtick={48,49,50,51,52,53},
    xticklabel style={yshift=0.6pt},
    xlabel style={at={(axis description cs:0.528,-0.150)}, anchor=center, inner sep=0pt}]
  \addplot[black] table[x=x, y=k] {\tabD};
  \addplot[red] table[x=x, y=r] {\tabD};
  \addplot[blue] table[x=x, y=b] {\tabD};
  \legend{1/2 Turn, 2 Turns, 5 Turns}
  \node[site] at (axis description cs:0.507,0.943) {Periphery};
  \node[tag] at (axis description cs:0.0864,0.892) {(d)};
\end{axis}

\end{tikzpicture}
\end{document}
